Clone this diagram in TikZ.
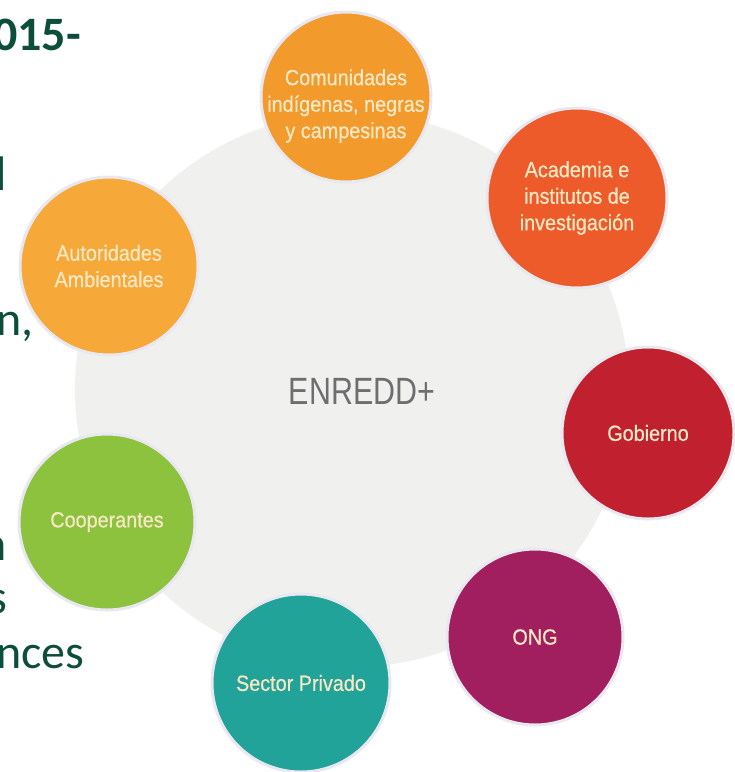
\documentclass[tikz,border=0pt]{standalone}
\usepackage{fontspec}
\setmainfont{Carlito}
\newfontfamily\condfont[FakeStretch=0.9, FakeBold=0.6]{Liberation Sans}
\newfontfamily\hubfont[FakeStretch=0.8]{Liberation Sans}
\definecolor{bggray}{HTML}{F0F1EF}
\definecolor{hubtext}{HTML}{6E6E6E}
\definecolor{ccom}{HTML}{F39A2C}
\definecolor{cacad}{HTML}{EE5B2B}
\definecolor{cgob}{HTML}{C1202E}
\definecolor{cong}{HTML}{A11F5E}
\definecolor{csec}{HTML}{22A39A}
\definecolor{ccoop}{HTML}{8DC23F}
\definecolor{caut}{HTML}{F6A838}
\definecolor{labtext}{HTML}{F7E8C4}
\definecolor{ringc}{HTML}{E9E8F1}
\definecolor{leftgreen}{HTML}{0D4D3B}
\tikzset{
  member/.style={circle, draw=ringc, line width=3pt, inner sep=0pt, align=center,
    text=labtext, font=\condfont\fontsize{22}{26.5}\selectfont},
  memberlabel/.style={inner sep=0pt, align=center,
    text=labtext, font=\condfont\fontsize{22}{26.5}\selectfont},
  slidetext/.style={inner sep=0pt, text=leftgreen, font=\fontsize{48}{56}\selectfont},
  slidebold/.style={slidetext, font=\bfseries\fontsize{48}{56}\selectfont}
}
\begin{document}
\begin{tikzpicture}[x=1pt,y=-1pt]
\useasboundingbox (0,0) rectangle (735,772);
\fill[white] (0,0) rectangle (735,772);
% slide text fragments
\node[slidebold, anchor=base west] (t1) at (-7,50) {015-};
\node[slidebold, anchor=base east] (t2) at (6,190) {l};
\node[slidetext, anchor=base west] (t3) at (-4,335) {n,};
\node[slidetext, anchor=base east] (t4) at (7,560) {n};
\node[slidetext, anchor=base east] (t5) at (7,613) {s};
\node[slidetext, anchor=base west] (t6) at (-4,668) {nces};
% hub
\node[circle, fill=bggray, minimum size=554pt, inner sep=0pt] (hub) at (352,390) {};
\node[text=hubtext, font=\hubfont\fontsize{38}{42}\selectfont] (hublabel) at (362,391) {ENREDD+};
% members
\node[member, fill=ccom, minimum size=170pt] (com) at (346,97) {};
\node[memberlabel] (comlabel) at (346,106) {Comunidades\\indígenas, negras\\y campesinas};
\node[member, fill=cacad, minimum size=180pt] (acad) at (577,198) {Academia e\\institutos de\\investigación};
\node[member, fill=cgob, minimum size=172pt] (gob) at (648,433) {Gobierno};
\node[member, fill=cong, minimum size=176pt] (ong) at (535,637) {ONG};
\node[member, fill=csec, minimum size=178pt] (sec) at (301,683) {Sector Privado};
\node[member, fill=ccoop, minimum size=176pt] (coop) at (107,522) {Cooperantes};
\node[member, fill=caut, minimum size=178pt] (aut) at (109,266) {Autoridades\\Ambientales};
\end{tikzpicture}
\end{document}
